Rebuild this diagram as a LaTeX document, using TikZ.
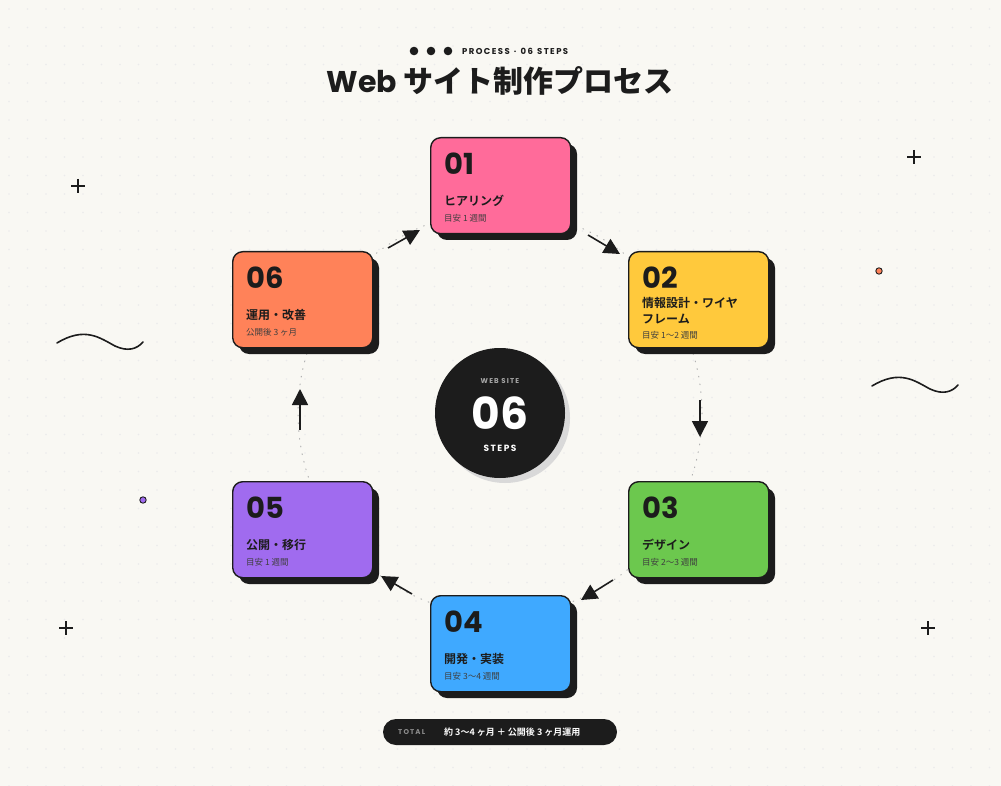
\documentclass[tikz,border=0pt]{standalone}
\usepackage{fontspec}
\setmainfont{Poppins}
\newfontfamily\jp{Noto Sans CJK JP}
\newfontfamily\jpb{Noto Sans CJK JP Bold}
\usetikzlibrary{arrows.meta}
\definecolor{bg}{HTML}{F9F8F3}
\definecolor{ink}{HTML}{1C1C1C}
\definecolor{cpink}{HTML}{FF6B9A}
\definecolor{cyel}{HTML}{FFC93C}
\definecolor{cgrn}{HTML}{6CC84E}
\definecolor{cblu}{HTML}{3FA9FF}
\definecolor{cpur}{HTML}{A06BEF}
\definecolor{corg}{HTML}{FF8259}
\tikzset{
 card/.style={draw=ink,line width=1.4pt,rounded corners=10pt,minimum width=140pt,minimum height=96pt,anchor=north west},
 shad/.style={fill=ink,rounded corners=10pt},
 num/.style={anchor=west,font=\bfseries\fontsize{29}{29}\selectfont,text=ink,inner sep=0},
 ttl/.style={anchor=west,font=\jpb\fontsize{12}{16}\selectfont,text=ink,inner sep=0,align=left},
 sub/.style={anchor=west,font=\jp\fontsize{8.5}{8.5}\selectfont,text=ink!85,inner sep=0},
 flow/.style={ink,line width=1.6pt,-{Triangle[length=16pt,width=16pt]}},
 plus/.style={ink,line width=1.3pt},
}
\newcommand{\card}[9]{%
 \fill[shad] (#2+7,#3+7) rectangle ++(140,96);
 \node[card,fill=#4] (#1) at (#2,#3) {};
 \node[num] (#1n) at (#2+14,#3+27) {#5};
 \node[ttl] (#1t) at (#2+14,#3+#8) {#6};
 \node[sub] (#1s) at (#2+14,#3+#9) {#7};
}
\begin{document}
\begin{tikzpicture}[x=1pt,y=-1pt]
\fill[bg] (0,0) rectangle (1001,786);
\useasboundingbox (0,0) rectangle (1001,786);
\foreach \i in {0,...,53}{\foreach \j in {0,...,42}{\fill[black!8] (18.5*\i+9,18.5*\j+9) circle (0.8);}}
% dotted ring
\draw[black!30,line width=1pt,dash pattern=on 0.8pt off 7pt,line cap=round] (500,413) circle (202);
% title
\foreach \x in {414,431,448}{\fill[ink] (\x,51) circle (4.3);}
\node[anchor=west,inner sep=0,font=\bfseries\fontsize{8.5}{9}\selectfont,text=ink] (kick) at (462,51) {P\,R\,O\,C\,E\,S\,S \;·\; 0\,6 \;S\,T\,E\,P\,S};
\node[inner sep=0,font=\fontsize{30}{32}\selectfont,text=ink] (title) at (500,81) {\bfseries Web {\jpb サイト制作プロセス}};
% cards
\card{c1}{430}{137}{cpink}{01}{ヒアリング}{目安 1 週間}{64}{81}
\card{c2}{628}{251}{cyel}{02}{情報設計・ワイヤ\\フレーム}{目安 1〜2 週間}{60}{84}
\card{c3}{628}{481}{cgrn}{03}{デザイン}{目安 2〜3 週間}{64}{81}
\card{c4}{430}{595}{cblu}{04}{開発・実装}{目安 3〜4 週間}{64}{81}
\card{c5}{232}{481}{cpur}{05}{公開・移行}{目安 1 週間}{64}{81}
\card{c6}{232}{251}{corg}{06}{運用・改善}{公開後 3 ヶ月}{64}{81}
% arrows
\coordinate (a1) at (388,248); \coordinate (b1) at (420,230);
\coordinate (a2) at (588,235); \coordinate (b2) at (620,254);
\coordinate (a3) at (700,400); \coordinate (b3) at (700,437);
\coordinate (a4) at (613,580); \coordinate (b4) at (581,600);
\coordinate (a5) at (412,594); \coordinate (b5) at (381,576);
\coordinate (a6) at (300,430); \coordinate (b6) at (300,389);
\foreach \k in {1,...,6}{\draw[flow] (a\k) -- (b\k);}
% center
\fill[black!15] (505,418) circle (65);
\node[circle,fill=ink,minimum size=130pt,inner sep=0] (hub) at (500,413) {};
\node[inner sep=0,text=black!35,font=\bfseries\fontsize{7}{7}\selectfont] (hw) at (500,381) {W\,E\,B \,S\,I\,T\,E};
\node[inner sep=0,text=white,font=\bfseries\fontsize{44}{44}\selectfont] (h6) at (500,413) {06};
\node[inner sep=0,text=white,font=\bfseries\fontsize{9}{9}\selectfont] (hs) at (500,448) {S\,T\,E\,P\,S};
% total pill
\node[fill=ink,rounded corners=13pt,minimum width=234pt,minimum height=26pt] (pill) at (500,732) {};
\node[anchor=west,inner sep=0,text=black!45,font=\bfseries\fontsize{7}{7}\selectfont] (pt) at (398,732) {T\,O\,T\,A\,L};
\node[anchor=west,inner sep=0,text=white,font=\jpb\fontsize{9}{9}\selectfont] (pv) at (444,732) {約 3〜4 ヶ月 ＋ 公開後 3 ヶ月運用};
% decorations
\foreach \x/\y in {78/186,914/157,66/628,928/628}{\draw[plus] (\x-7,\y) -- (\x+7,\y); \draw[plus] (\x,\y-7) -- (\x,\y+7);}
\fill[corg,draw=ink,line width=0.9pt] (879,271) circle (3.2);
\fill[cpur,draw=ink,line width=0.9pt] (143,500) circle (3.2);
\draw[ink,line width=1.6pt,line cap=round] (57,343) .. controls (85,326) and (100,338) .. (115,346) .. controls (128,352) and (137,349) .. (143,342);
\draw[ink,line width=1.6pt,line cap=round] (872,386) .. controls (900,369) and (915,381) .. (930,389) .. controls (943,395) and (952,392) .. (958,385);
\end{tikzpicture}
\end{document}
